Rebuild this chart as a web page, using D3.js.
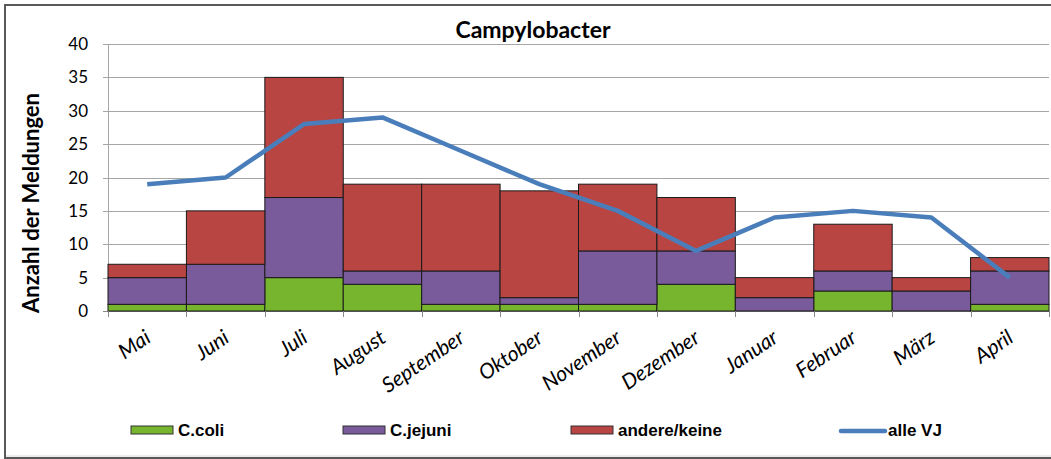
<!DOCTYPE html>
<html>
<head>
<meta charset="utf-8">
<script src="https://cdn.jsdelivr.net/npm/d3@7"></script>
<style>
  body { margin: 0; background: #fff; }
  svg { display: block; }
</style>
</head>
<body>
<div id="chart"></div>
<script>
// values
var months = ["Mai", "Juni", "Juli", "August", "September", "Oktober",
	"November", "Dezember", "Januar", "Februar", "März", "April"];
var coli = [1, 1, 5, 4, 1, 1, 1, 4, 0, 3, 0, 1];
var jejuni = [4, 6, 12, 2, 5, 1, 8, 5, 2, 3, 3, 5];
var andere = [2, 8, 18, 13, 13, 16, 10, 8, 3, 7, 2, 2];
var alleVJ = [19, 20, 28, 29, 24, 19, 15, 9, 14, 15, 14, 5];
var yTicks = [0, 5, 10, 15, 20, 25, 30, 35, 40];

var seriesNames = ["C.coli", "C.jejuni", "andere/keine"];
var colors = ["#78b52f", "#795b9b", "#b94543"];
var lineColor = "#4a7ebb";

(function() {
	var W = 1051, H = 459;
	var plotLeft = 108, plotRight = 1049, plotTop = 44, plotBottom = 311;

	var svg = d3.select("#chart").append("svg")
		.attr("width", W).attr("height", H);

	// frame
	svg.append("line").attr("x1", 5).attr("x2", W).attr("y1", 456).attr("y2", 456)
		.attr("stroke", "#d9d9d9").attr("stroke-width", 1);
	svg.append("path").attr("d", "M" + W + ",5H5V458H" + W)
		.attr("fill", "none").attr("stroke", "#595959").attr("stroke-width", 2);

	var x = d3.scaleBand().domain(months).range([plotLeft, plotRight]).padding(0);
	var y = d3.scaleLinear().domain([0, 40]).range([plotBottom, plotTop]);

	// gridlines
	svg.append("g").selectAll("line").data(yTicks).enter().append("line")
		.attr("x1", plotLeft - 5).attr("x2", plotRight)
		.attr("y1", function(d) { return Math.round(y(d)) + 0.5; })
		.attr("y2", function(d) { return Math.round(y(d)) + 0.5; })
		.attr("stroke", function(d) { return d == 0 ? "#888" : "#a6a6a6"; })
		.attr("stroke-width", 1);

	// y axis line
	svg.append("line").attr("x1", plotLeft + 0.5).attr("x2", plotLeft + 0.5)
		.attr("y1", plotTop).attr("y2", plotBottom).attr("stroke", "#a6a6a6");

	// y tick labels
	svg.append("g").selectAll("text").data(yTicks).enter().append("text")
		.attr("x", 88).attr("y", function(d) { return y(d) + 6; })
		.attr("text-anchor", "end")
		.attr("font-family", "Lato, sans-serif").attr("font-size", "17px")
		.attr("fill", "#000")
		.text(function(d) { return d; });

	// stacked bars
	var rows = months.map(function(m, i) {
		return { month: m, "C.coli": coli[i], "C.jejuni": jejuni[i], "andere/keine": andere[i] };
	});
	var stack = d3.stack().keys(seriesNames)(rows);

	svg.append("g").selectAll("g").data(stack).enter().append("g")
		.attr("fill", function(d, i) { return colors[i]; })
		.selectAll("rect").data(function(d) { return d.filter(function(s) { return s[1] - s[0] > 0; }); })
		.enter().append("rect")
		.attr("x", function(d) { return x(d.data.month); })
		.attr("y", function(d) { return y(d[1]); })
		.attr("width", x.bandwidth())
		.attr("height", function(d) { return y(d[0]) - y(d[1]); })
		.attr("stroke", "#1a1a1a").attr("stroke-width", 1);

	// x ticks at band boundaries
	var bounds = months.map(function(m) { return x(m); }).concat([plotRight]);
	svg.append("g").selectAll("line").data(bounds).enter().append("line")
		.attr("x1", function(d) { return Math.round(d) + 0.5; })
		.attr("x2", function(d) { return Math.round(d) + 0.5; })
		.attr("y1", plotBottom).attr("y2", plotBottom + 6)
		.attr("stroke", "#888");

	// x labels
	svg.append("g").selectAll("text").data(months).enter().append("text")
		.attr("transform", function(d) {
			return "translate(" + (x(d) + x.bandwidth() / 2 + 5) + "," + 341 + ") rotate(-34)";
		})
		.attr("text-anchor", "end")
		.attr("font-family", "Lato, sans-serif").attr("font-style", "italic")
		.attr("font-size", "21px")
		.text(function(d) { return d; });

	// line series
	var line = d3.line()
		.x(function(d, i) { return x(months[i]) + x.bandwidth() / 2; })
		.y(function(d) { return y(d); });
	svg.append("path").datum(alleVJ)
		.attr("d", line)
		.attr("fill", "none").attr("stroke", lineColor)
		.attr("stroke-width", 4.5).attr("stroke-linejoin", "round");

	// title
	svg.append("text").attr("x", 533).attr("y", 38)
		.attr("text-anchor", "middle")
		.attr("font-family", "Lato, sans-serif").attr("font-weight", "bold")
		.attr("font-size", "23px")
		.text("Campylobacter");

	// y axis title
	svg.append("text")
		.attr("transform", "translate(39," + 203 + ") rotate(-90)")
		.attr("text-anchor", "middle")
		.attr("font-family", "Lato, sans-serif").attr("font-weight", "bold")
		.attr("font-size", "22px")
		.text("Anzahl der Meldungen");

	// legend
	var legendX = [131, 343, 571, 841];
	var legendItems = seriesNames.concat(["alle VJ"]);
	var lg = svg.append("g").selectAll("g").data(legendItems).enter().append("g")
		.attr("transform", function(d, i) { return "translate(" + legendX[i] + ",430)"; });
	lg.each(function(d, i) {
		var g = d3.select(this);
		if (i < 3) {
			g.append("rect").attr("x", 0).attr("y", -4).attr("width", 42).attr("height", 8)
				.attr("fill", colors[i]).attr("stroke", "#333").attr("stroke-width", 1);
		} else {
			g.append("line").attr("x1", 0).attr("x2", 44).attr("y1", 1).attr("y2", 1)
				.attr("stroke", lineColor).attr("stroke-width", 4.5)
				.attr("stroke-linecap", "round");
		}
		g.append("text").attr("x", 47).attr("y", 6)
			.attr("font-family", "'Liberation Sans', Arial, sans-serif")
			.attr("font-weight", "bold").attr("font-size", "17px")
			.text(d);
	});
})();
</script>
</body>
</html>
